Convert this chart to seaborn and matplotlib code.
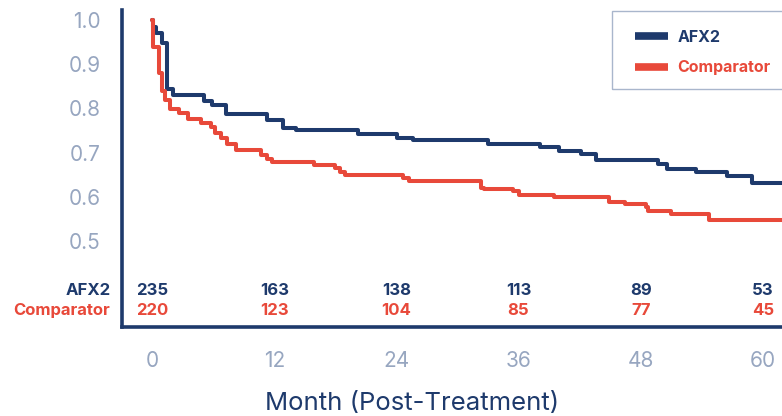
import pandas as pd
import numpy as np
import matplotlib
matplotlib.use("Agg")
import matplotlib.pyplot as plt
from matplotlib.patches import Rectangle
import seaborn as sns

# Kaplan-Meier style curves
afx2_months = [0, 0.1, 0.39, 0.95, 1.44, 2.09, 5.13, 5.85, 7.25, 11.25, 12.87, 14.19,
               20.2, 24.09, 25.62, 33.04, 38.1, 39.93, 42.16, 43.66, 49.68, 50.56,
               53.4, 56.44, 58.89, 64]
afx2_surv = [1.0, 0.985, 0.970, 0.949, 0.843, 0.830, 0.817, 0.808, 0.787, 0.774, 0.756,
             0.751, 0.742, 0.734, 0.728, 0.720, 0.713, 0.704, 0.697, 0.683, 0.674,
             0.663, 0.656, 0.647, 0.631, 0.631]

comp_months = [0, 0.05, 0.72, 1.01, 1.27, 1.76, 2.65, 3.56, 4.80, 5.75, 6.18, 6.74,
               7.38, 8.21, 10.69, 11.25, 11.74, 15.88, 17.94, 18.5, 18.92, 24.64,
               25.23, 32.32, 32.58, 35.42, 36.01, 39.44, 44.9, 46.44, 48.5, 48.75,
               51.0, 54.7, 64]
comp_surv = [1.0, 0.938, 0.881, 0.840, 0.819, 0.798, 0.789, 0.777, 0.766, 0.757, 0.744,
             0.732, 0.719, 0.706, 0.695, 0.686, 0.678, 0.672, 0.664, 0.657, 0.649,
             0.643, 0.636, 0.621, 0.617, 0.613, 0.605, 0.600, 0.588, 0.583, 0.576,
             0.568, 0.562, 0.547, 0.547]

# numbers at risk
risk_months = [0, 12, 24, 36, 48, 60]
afx2_risk = [235, 163, 138, 113, 89, 53]
comp_risk = [220, 123, 104, 85, 77, 45]

y_ticks = [0.5, 0.6, 0.7, 0.8, 0.9, 1.0]

NAVY = "#1E3A6C"
RED = "#E8493A"
GREY = "#97A6C0"

sns.set_style("white")
plt.rcParams["font.family"] = ["Inter", "DejaVu Sans"]

df = pd.concat([
    pd.DataFrame({"month": afx2_months, "surv": afx2_surv, "arm": "AFX2"}),
    pd.DataFrame({"month": comp_months, "surv": comp_surv, "arm": "Comparator"}),
])

fig = plt.figure(figsize=(7.82, 4.16), dpi=100)
ax = fig.add_axes([122 / 782, 1 - 327 / 416, 678 / 782, 317 / 416])

sns.lineplot(data=df, x="month", y="surv", hue="arm", palette=[NAVY, RED],
             estimator=None, drawstyle="steps-post", linewidth=2.9, ax=ax, legend=False)

ax.set_xlim(-2.95, 63.65)
ax.set_ylim(0.3054, 1.0226)
ax.set_xticks(risk_months)
ax.set_yticks(y_ticks)
ax.set_yticklabels([f"{v:.1f}" for v in y_ticks])
sns.despine(ax=ax)
for side in ["left", "bottom"]:
    ax.spines[side].set_color(NAVY)
    ax.spines[side].set_linewidth(2.6)
ax.tick_params(axis="both", colors=NAVY, labelcolor=GREY, labelsize=15,
               length=10.5, width=2.2)
ax.tick_params(axis="y", pad=5)
ax.tick_params(axis="x", pad=7)

ax.set_xlabel("Month (Post-Treatment)", fontsize=18.5, color=NAVY)
ax.xaxis.set_label_coords(0.428, -0.205)
ax.set_ylabel("")

# numbers at risk table
for m, a, c in zip(risk_months, afx2_risk, comp_risk):
    ax.text(m, 0.388, str(a), color=NAVY, fontsize=12, fontweight="bold",
            ha="center", va="center")
    ax.text(m, 0.343, str(c), color=RED, fontsize=12, fontweight="bold",
            ha="center", va="center")
ax.text(-4.1, 0.388, "AFX2", color=NAVY, fontsize=12, fontweight="bold",
        ha="right", va="center", clip_on=False)
ax.text(-4.1, 0.343, "Comparator", color=RED, fontsize=12, fontweight="bold",
        ha="right", va="center", clip_on=False)

# legend (frame drawn separately so it can run off the right edge)
fig.patches.append(Rectangle((612 / 782, 1 - 89 / 416), 200 / 782, 78 / 416,
                             transform=fig.transFigure, fill=False,
                             edgecolor="#A9B6CC", linewidth=1.0))
handles = [plt.Line2D([], [], color=NAVY, linewidth=5.5, solid_capstyle="butt"),
           plt.Line2D([], [], color=RED, linewidth=5.5, solid_capstyle="butt")]
leg = fig.legend(handles, ["AFX2", "Comparator"], loc="upper left",
                 bbox_to_anchor=(635 / 782, 1 - 30 / 416), frameon=False,
                 borderpad=0, borderaxespad=0, handlelength=2.05, handletextpad=0.62,
                 labelspacing=0.95, prop={"size": 11.5, "weight": "bold"})
for txt, col in zip(leg.get_texts(), [NAVY, RED]):
    txt.set_color(col)

fig.savefig("out.png", dpi=100)
